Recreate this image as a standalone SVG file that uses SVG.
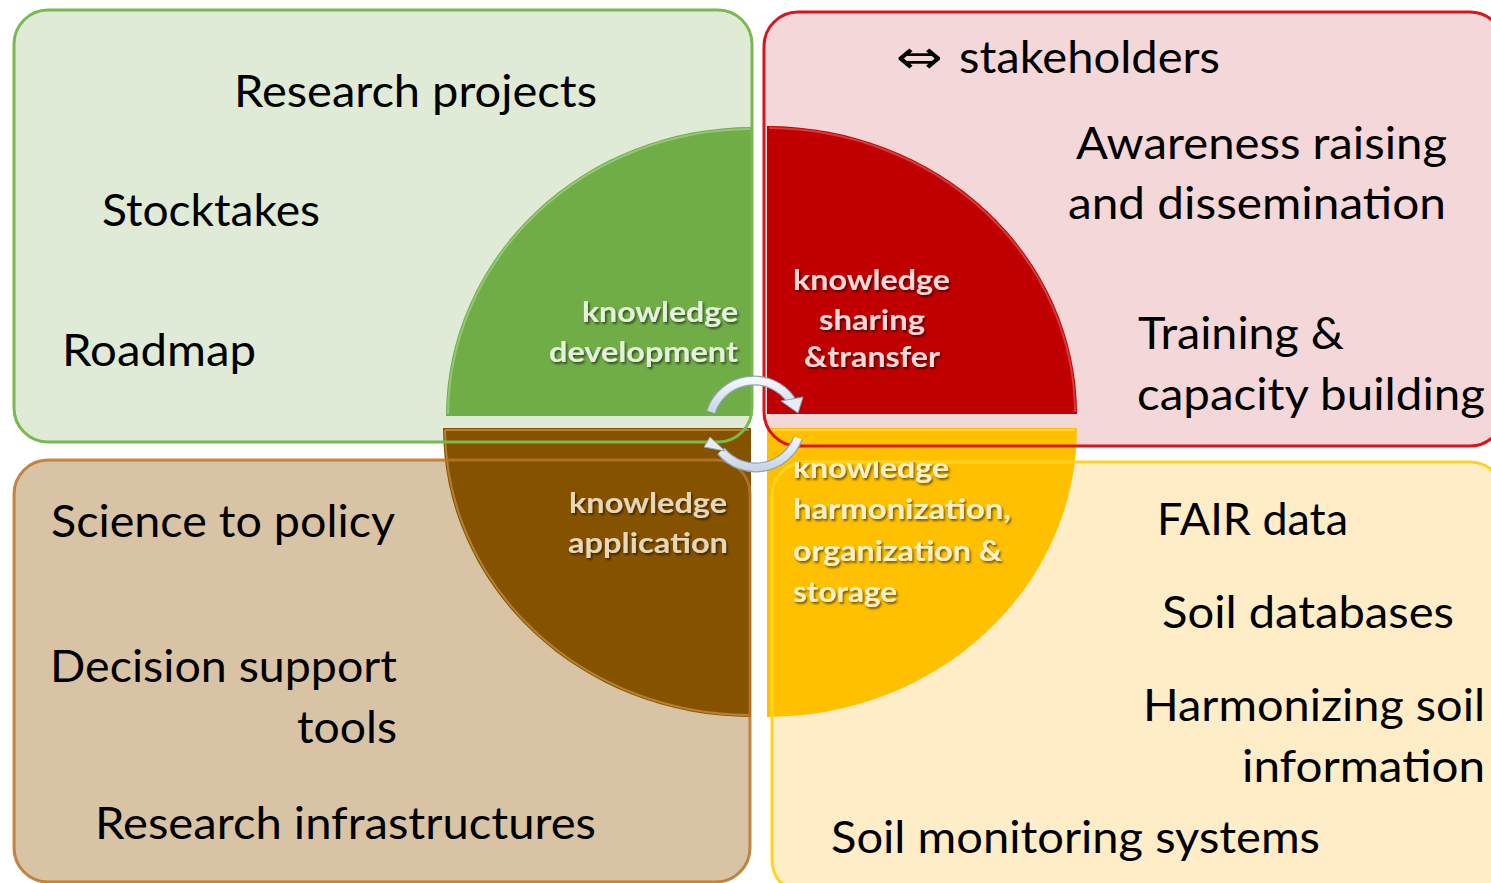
<svg xmlns="http://www.w3.org/2000/svg" width="1491" height="883" viewBox="0 0 1491 883">
<style>
.lbl{font-family:Lato,"Liberation Sans",sans-serif;font-size:44px;fill:#000}
.ctr{font-family:Lato,"Liberation Sans",sans-serif;font-size:29px;font-weight:bold;filter:url(#sh)}
.out{fill:none;stroke-width:3}
.bev{fill:none;stroke-width:2;stroke-opacity:0.55}
.arr{fill:none;stroke:#8FA3B8;stroke-width:10;stroke-linecap:butt}
.arrIn{fill:none;stroke:url(#ag);stroke-width:7.5;stroke-linecap:butt}
.head{fill:#E6EDF5;stroke:#8FA3B8;stroke-width:1}
</style>
<defs>
<filter id="sh" x="-10%" y="-30%" width="120%" height="160%">
<feDropShadow dx="1.5" dy="2" stdDeviation="1" flood-color="#000" flood-opacity="0.55"/>
</filter>
<linearGradient id="ag" x1="0" y1="0" x2="0" y2="1">
<stop offset="0" stop-color="#F4F7FB"/>
<stop offset="1" stop-color="#C9D6E6"/>
</linearGradient>
<clipPath id="clipK"><rect x="780" y="462" width="300" height="34"/></clipPath>
</defs>

<!-- quadrant fills -->
<g id="quad-green-bg"><rect x="14" y="10" width="738" height="432" rx="34" fill="#DFEBD6"/></g>
<g id="quad-red-bg"><rect x="764" y="12" width="740" height="434" rx="34" fill="#F4D7D8"/></g>
<g id="quad-brown-bg"><rect x="14" y="460" width="736" height="422" rx="34" fill="#D9C3A5"/></g>
<g id="quad-yellow-bg"><rect x="772" y="462" width="732" height="432" rx="34" fill="#FEEDC7"/></g>

<!-- central circle quarters -->
<g id="q-green">
<path d="M752 416 L446 416 A306 289 0 0 1 752 127 Z" fill="#70AD47"/>
<path class="bev" d="M448 414 A304 287 0 0 1 750 129" stroke="#B5DA9B"/>
</g>
<g id="q-red">
<path d="M767 414 L767 126 A310 288 0 0 1 1077 414 Z" fill="#C00000"/>
<path class="bev" d="M769 128 A308 286 0 0 1 1075 412" stroke="#E86A6A"/>
</g>
<g id="q-brown">
<path d="M751 428 L751 717 A308 289 0 0 1 443 428 Z" fill="#855300"/>
<path class="bev" d="M749 715 A306 287 0 0 1 445 430" stroke="#D9A85A"/>
<path class="bev" d="M445 430 L749 430" stroke="#D9A85A"/>
</g>
<g id="q-yellow">
<path d="M767 428 L1077 428 A310 289 0 0 1 767 717 Z" fill="#FFC000"/>
<path class="bev" d="M769 430 L1075 430" stroke="#FFE26A"/>
</g>

<!-- quadrant outlines -->
<g id="quad-green"><rect class="out" x="14" y="10" width="738" height="432" rx="34" stroke="#78BA4F"/></g>
<g id="quad-red"><rect class="out" x="764" y="12" width="740" height="434" rx="34" stroke="#D8141C"/></g>
<g id="quad-brown"><rect class="out" x="14" y="460" width="736" height="422" rx="34" stroke="#BA7424" stroke-opacity="0.85"/></g>
<g id="quad-yellow"><rect class="out" x="772" y="462" width="732" height="432" rx="34" stroke="#FFD41E"/></g>

<!-- connectors: cycle arrows -->
<g id="connectors">
<path class="arr" d="M711 412 A45 45 0 0 1 791 400"/>
<path class="arrIn" d="M711 412 A45 45 0 0 1 791 400"/>
<polygon class="head" points="781,401 803,397 798,413"/>
<path class="arr" d="M798 438 A45 45 0 0 1 721 451"/>
<path class="arrIn" d="M798 438 A45 45 0 0 1 721 451"/>
<polygon class="head" points="704,447 725,451 710,437"/>
</g>

<!-- green quadrant texts -->
<g id="t-green">
<text class="lbl" x="234" y="107" textLength="363" lengthAdjust="spacingAndGlyphs">Research projects</text>
<text class="lbl" x="102" y="226" textLength="218" lengthAdjust="spacingAndGlyphs">Stocktakes</text>
<text class="lbl" x="62" y="366" textLength="194" lengthAdjust="spacingAndGlyphs">Roadmap</text>
<text class="ctr" fill="#E4F1DB" x="582" y="322" textLength="156" lengthAdjust="spacingAndGlyphs">knowledge</text>
<text class="ctr" fill="#E4F1DB" x="549" y="362" textLength="189" lengthAdjust="spacingAndGlyphs">development</text>
</g>

<!-- red quadrant texts -->
<g id="t-red">
<text class="lbl" y="73"><tspan x="896" font-family="'DejaVu Sans',sans-serif" font-size="46" textLength="47" lengthAdjust="spacingAndGlyphs">⇔</tspan><tspan x="959" textLength="261" lengthAdjust="spacingAndGlyphs">stakeholders</tspan></text>
<text class="lbl" x="1076" y="159" textLength="371" lengthAdjust="spacingAndGlyphs">Awareness raising</text>
<text class="lbl" x="1068" y="219" textLength="378" lengthAdjust="spacingAndGlyphs">and dissemination</text>
<text class="lbl" x="1138" y="349" textLength="206" lengthAdjust="spacingAndGlyphs">Training &amp;</text>
<text class="lbl" x="1137" y="410" textLength="348" lengthAdjust="spacingAndGlyphs">capacity building</text>
<text class="ctr" fill="#F6DADA" x="793" y="290" textLength="157" lengthAdjust="spacingAndGlyphs">knowledge</text>
<text class="ctr" fill="#F6DADA" x="819" y="330" textLength="106" lengthAdjust="spacingAndGlyphs">sharing</text>
<text class="ctr" fill="#F6DADA" x="804" y="367" textLength="136" lengthAdjust="spacingAndGlyphs">&amp;transfer</text>
</g>

<!-- brown quadrant texts -->
<g id="t-brown">
<text class="lbl" x="51" y="537" textLength="344" lengthAdjust="spacingAndGlyphs">Science to policy</text>
<text class="lbl" x="50" y="682" textLength="347" lengthAdjust="spacingAndGlyphs">Decision support</text>
<text class="lbl" x="297" y="743" textLength="100" lengthAdjust="spacingAndGlyphs">tools</text>
<text class="lbl" x="95" y="839" textLength="501" lengthAdjust="spacingAndGlyphs">Research infrastructures</text>
<text class="ctr" fill="#E8D6B8" x="569" y="513" textLength="158" lengthAdjust="spacingAndGlyphs">knowledge</text>
<text class="ctr" fill="#E8D6B8" x="568" y="553" textLength="160" lengthAdjust="spacingAndGlyphs">application</text>
</g>

<!-- yellow quadrant texts -->
<g id="t-yellow">
<text class="lbl" x="1157" y="535" textLength="191" lengthAdjust="spacingAndGlyphs">FAIR data</text>
<text class="lbl" x="1162" y="628" textLength="292" lengthAdjust="spacingAndGlyphs">Soil databases</text>
<text class="lbl" x="1143" y="721" textLength="342" lengthAdjust="spacingAndGlyphs">Harmonizing soil</text>
<text class="lbl" x="1242" y="782" textLength="243" lengthAdjust="spacingAndGlyphs">information</text>
<text class="lbl" x="831" y="853" textLength="489" lengthAdjust="spacingAndGlyphs">Soil monitoring systems</text>
<g clip-path="url(#clipK)"><text class="ctr" fill="#FFF0CC" x="793" y="478" textLength="156" lengthAdjust="spacingAndGlyphs">knowledge</text></g>
<text class="ctr" fill="#FFF0CC" x="793" y="519" textLength="218" lengthAdjust="spacingAndGlyphs">harmonization,</text>
<text class="ctr" fill="#FFF0CC" x="793" y="561" textLength="209" lengthAdjust="spacingAndGlyphs">organization &amp;</text>
<text class="ctr" fill="#FFF0CC" x="793" y="602" textLength="104" lengthAdjust="spacingAndGlyphs">storage</text>
</g>
</svg>
